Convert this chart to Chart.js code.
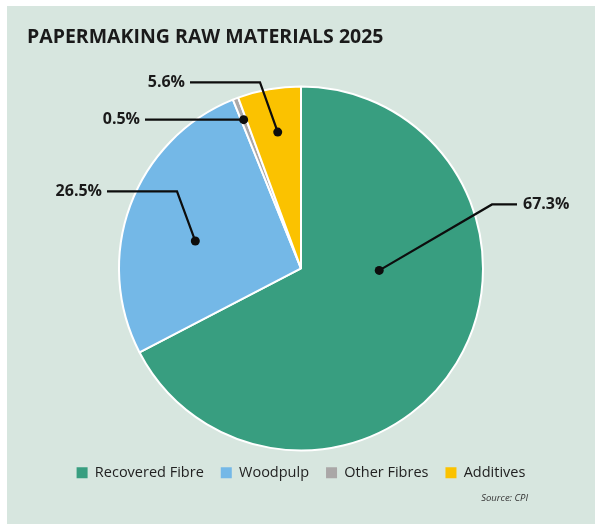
<!DOCTYPE html>
<html>
<head>
<meta charset="utf-8">
<script src="https://cdn.jsdelivr.net/npm/chart.js@4.4.1/dist/chart.umd.min.js"></script>
<style>
  html, body { margin: 0; padding: 0; background: #ffffff; }
  #panel {
    position: absolute; left: 7px; top: 6px;
    width: 588px; height: 518px;
    background: #d7e6df;
  }
</style>
</head>
<body>
<div id="panel"><canvas id="rawChart" width="588" height="518"></canvas></div>
<script>
const categories = ["Recovered Fibre", "Woodpulp", "Other Fibres", "Additives"];
const shares = [67.3, 26.5, 0.5, 5.6];
const sliceColors = ["#389e80", "#74b8e7", "#aaa7a7", "#fbc200"];

// where each leader line starts inside its slice (fraction along the arc, fraction of radius)
// and where it bends / ends, measured from the pie centre
const callouts = [
  { t: 0.377, r: 0.43, bend: [191, -64], end: [216, -64], side: "right" },
  { t: 0.44,  r: 0.60, bend: [-124, -77], end: [-194, -77], side: "left" },
  { t: 0.5,   r: 0.876, bend: null, end: [-156, null], side: "left" },
  { t: 0.52,  r: 0.76, bend: [-41, -186], end: [-111, -186], side: "left" }
];

const leaderLines = {
  id: "leaderLines",
  afterDatasetsDraw(chart) {
    const ctx = chart.ctx;
    const arcs = chart.getDatasetMeta(0).data;
    ctx.save();
    ctx.strokeStyle = "#0d0d0d";
    ctx.fillStyle = "#0d0d0d";
    ctx.lineWidth = 2.2;
    ctx.font = "bold 16px 'Open Sans'";
    ctx.textBaseline = "middle";
    callouts.forEach((c, i) => {
      const arc = arcs[i];
      const a = arc.startAngle + c.t * (arc.endAngle - arc.startAngle);
      const rr = c.r * arc.outerRadius;
      const dx = arc.x + rr * Math.cos(a);
      const dy = arc.y + rr * Math.sin(a);
      const ey = c.end[1] === null ? dy : arc.y + c.end[1];
      const ex = arc.x + c.end[0];
      ctx.beginPath();
      ctx.moveTo(dx, dy);
      if (c.bend) ctx.lineTo(arc.x + c.bend[0], arc.y + c.bend[1]);
      ctx.lineTo(ex, ey);
      ctx.stroke();
      ctx.beginPath();
      ctx.arc(dx, dy, 4.5, 0, Math.PI * 2);
      ctx.fill();
      ctx.fillStyle = "#1a1a1a";
      const txt = shares[i] + "%";
      if (c.side === "right") {
        ctx.textAlign = "left";
        ctx.fillText(txt, ex + 6, ey);
      } else {
        ctx.textAlign = "right";
        ctx.fillText(txt, ex - 5, ey);
      }
      ctx.fillStyle = "#0d0d0d";
    });
    ctx.restore();
  },
  afterDraw(chart) {
    const ctx = chart.ctx;
    ctx.save();
    ctx.font = "italic 9.5px 'Open Sans'";
    ctx.fillStyle = "#333333";
    ctx.textAlign = "right";
    ctx.textBaseline = "middle";
    ctx.fillText("Source: CPI", 521, 492);
    ctx.restore();
  }
};

new Chart(document.getElementById("rawChart"), {
  type: "pie",
  data: {
    labels: categories,
    datasets: [{
      data: shares,
      backgroundColor: sliceColors,
      borderColor: "#ffffff",
      borderWidth: 2
    }]
  },
  options: {
    responsive: false,
    animation: false,
    radius: 182,
    layout: { padding: { left: 20, right: 20, top: 0, bottom: 34 } },
    plugins: {
      title: {
        display: true,
        text: "PAPERMAKING RAW MATERIALS 2025",
        align: "start",
        color: "#1a1a1a",
        font: { family: "'Open Sans'", size: 19.5, weight: "bold" },
        padding: { top: 20, bottom: 39 }
      },
      legend: {
        position: "bottom",
        labels: {
          color: "#222222",
          font: { family: "'Open Sans'", size: 14.5 },
          boxWidth: 11,
          boxHeight: 11,
          padding: 17,
          generateLabels(chart) {
            return categories.map((name, i) => ({
              text: name,
              fillStyle: sliceColors[i],
              strokeStyle: sliceColors[i],
              lineWidth: 0,
              fontColor: "#222222",
              hidden: false,
              index: i
            }));
          }
        }
      },
      tooltip: { enabled: false }
    }
  },
  plugins: [leaderLines]
});
</script>
</body>
</html>
